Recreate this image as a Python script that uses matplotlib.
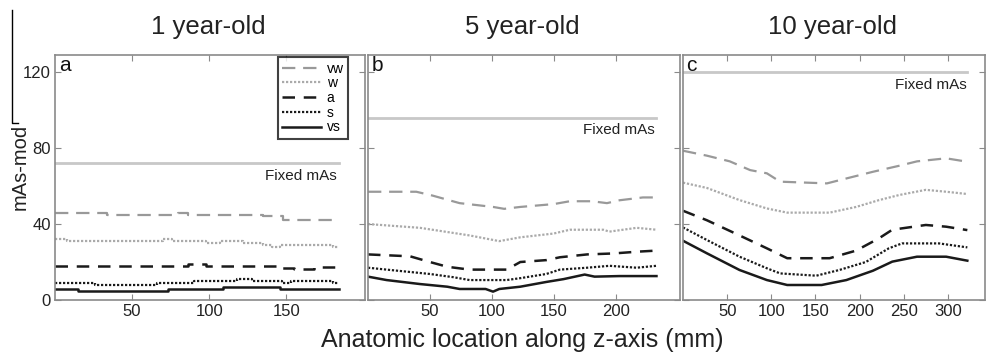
import matplotlib
matplotlib.use("Agg")
import matplotlib.pyplot as plt
from matplotlib.lines import Line2D

plt.rcParams['font.family'] = ['Liberation Sans', 'DejaVu Sans']

# panel titles / labels
titles = ['1 year-old', '5 year-old', '10 year-old']
panel_tags = ['a', 'b', 'c']
series_names = ['vw', 'w', 'a', 's', 'vs']
fixed_mas = [72, 96, 120]
x_limits = [201, 252, 342]
x_ticks = [[50, 100, 150], [50, 100, 150, 200], [50, 100, 150, 200, 250, 300]]
y_ticks = [0, 40, 80, 120]

# 1 year-old
vw_a_x = [0, 34, 80, 86, 135, 148, 184]
vw_a = [46, 45, 46, 45, 44, 42, 42]
w_a_x = [0, 8, 70, 76, 98, 107, 122, 135, 141, 146, 180, 184]
w_a = [32, 31, 32, 31, 30, 31, 30, 29, 28, 29, 28, 28]
a_a_x = [0, 86, 98, 145, 155, 168, 184]
a_a = [18, 19, 18, 17, 16.5, 17.5, 17.5]
s_a_x = [0, 26, 66, 90, 118, 128, 147, 153, 180, 184]
s_a = [9, 8, 9, 10, 11, 10, 9, 10, 9, 9]
vs_a_x = [0, 15, 73, 109, 146, 184]
vs_a = [6, 5, 6, 7, 6, 6]

# 5 year-old
vw_b_x = [0, 39, 52, 74, 101, 110, 123, 150, 163, 181, 193, 203, 222, 233]
vw_b = [57, 57, 55, 51, 49, 48, 49, 50.5, 52, 52, 51, 52.5, 54, 54]
w_b_x = [0, 42, 82, 106, 123, 150, 163, 190, 195, 217, 233]
w_b = [40, 38, 34, 31, 33, 35, 37, 37, 36, 38, 37]
a_b_x = [0, 34, 50, 64, 82, 112, 123, 144, 155, 177, 198, 219, 233]
a_b = [24, 23, 20, 17.5, 16, 16, 20, 21, 22.5, 24, 24.5, 25.5, 26]
s_b_x = [0, 15, 50, 69, 82, 112, 123, 144, 155, 177, 195, 217, 233]
s_b = [17, 16, 13.7, 12, 10.5, 10.5, 11.5, 13.7, 16, 17, 18, 17, 18]
vs_b_x = [0, 15, 42, 64, 74, 95, 101, 106, 123, 144, 158, 175, 183, 203, 233]
vs_b = [12.3, 10.5, 8.4, 7, 5.8, 5.8, 4.4, 5.8, 7, 9.5, 11, 13.4, 12.3, 12.6, 12.6]

# 10 year-old
vw_c_x = [0, 27, 53, 76, 95, 110, 163, 185, 215, 245, 265, 298, 322]
vw_c = [78.6, 76, 73, 68.4, 66.7, 62.3, 61.4, 64, 67.5, 70.7, 73, 74.6, 72.8]
w_c_x = [0, 27, 64, 95, 118, 166, 196, 222, 245, 275, 298, 322]
w_c = [61.8, 59, 52.6, 48.2, 46, 46, 49, 52.6, 55.3, 58, 57, 55.8]
a_c_x = [0, 27, 64, 95, 118, 166, 196, 222, 237, 275, 298, 322]
a_c = [47, 42, 34, 27.2, 22, 22, 26, 32.5, 37, 39.5, 38.6, 36.8]
s_c_x = [0, 27, 64, 95, 110, 151, 177, 207, 233, 248, 290, 322]
s_c = [38.2, 31.6, 22.8, 16.7, 14, 12.8, 15.8, 20, 27.2, 29.8, 29.8, 27.7]
vs_c_x = [0, 27, 64, 95, 118, 157, 185, 215, 237, 265, 298, 322]
vs_c = [31.2, 24.6, 15.8, 10.5, 7.9, 7.9, 10.5, 15.4, 20.2, 22.8, 22.8, 20.7]

panels = [
    [(vw_a_x, vw_a), (w_a_x, w_a), (a_a_x, a_a), (s_a_x, s_a), (vs_a_x, vs_a)],
    [(vw_b_x, vw_b), (w_b_x, w_b), (a_b_x, a_b), (s_b_x, s_b), (vs_b_x, vs_b)],
    [(vw_c_x, vw_c), (w_c_x, w_c), (a_c_x, a_c), (s_c_x, s_c), (vs_c_x, vs_c)],
]

# line styles per series
styles = {
    'vw': dict(color='#999999', lw=1.6, ls=(0, (6, 3.5))),
    'w': dict(color='#aaaaaa', lw=1.6, ls=(0, (1, 0.8))),
    'a': dict(color='#1a1a1a', lw=1.8, ls=(0, (5, 3.5))),
    's': dict(color='#1a1a1a', lw=1.6, ls=(0, (1, 0.8))),
    'vs': dict(color='#1a1a1a', lw=1.8, ls='-'),
}
spine_col = '#8a8a8a'

fig = plt.figure(figsize=(9.86, 3.58), dpi=100)
W, H = 986, 358
boxes = [(55, 365), (368, 680), (683, 985)]
top_px, bot_px = 55, 300

for i, (l, r) in enumerate(boxes):
    ax = fig.add_axes([l / W, 1 - bot_px / H, (r - l) / W, (bot_px - top_px) / H])
    for name, (xs, ys) in zip(series_names, panels[i]):
        ds = 'steps-post' if i == 0 else 'default'
        ax.plot(xs, ys, drawstyle=ds, **styles[name])
    xend = panels[i][0][0][-1]
    ax.plot([0, xend], [fixed_mas[i], fixed_mas[i]], color='#c8c8c8', lw=2)
    ax.text(xend - 1, fixed_mas[i] - 3, 'Fixed mAs', ha='right', va='top',
            fontsize=11, color='#222222')
    ax.text(0.012, 0.995, panel_tags[i], transform=ax.transAxes, ha='left',
            va='top', fontsize=15, color='#111111')
    ax.set_xlim(0, x_limits[i])
    ax.set_ylim(0, 129)
    ax.set_xticks(x_ticks[i])
    ax.set_yticks(y_ticks)
    ax.tick_params(direction='in', length=4, color=spine_col, top=True,
                   right=True, labelsize=12, labelcolor='#222222', pad=3)
    if i > 0:
        ax.set_yticklabels([])
    for sp in ax.spines.values():
        sp.set_color(spine_col)
        sp.set_linewidth(1.2)
    fig.text(((l + r) / 2 - 2) / W, 1 - 27 / H, titles[i], ha='center',
             va='center', fontsize=18.5, color='#222222')
    if i == 0:
        handles = [Line2D([], [], **styles[n]) for n in series_names]
        leg = ax.legend(handles, series_names, loc='upper right',
                        bbox_to_anchor=(0.945, 0.99), fontsize=10,
                        handlelength=2.8, handletextpad=0.4,
                        labelspacing=0.05, borderpad=0.3, frameon=True,
                        fancybox=False, borderaxespad=0)
        leg.get_frame().set_edgecolor('#111111')
        leg.get_frame().set_linewidth(1.5)

fig.text(522 / W, 1 - 340 / H, 'Anatomic location along z-axis (mm)',
         ha='center', va='center', fontsize=18, color='#222222')
fig.text(20 / W, 1 - 167 / H, 'mAs-mod', ha='center', va='center',
         rotation=90, fontsize=14.5, color='#222222')

# stray bracket line at left edge
fig.add_artist(Line2D([12 / W, 12 / W, 18 / W], [1 - 10 / H, 1 - 123 / H, 1 - 123 / H],
                      color='black', lw=1))

fig.savefig('out.png', dpi=100)
